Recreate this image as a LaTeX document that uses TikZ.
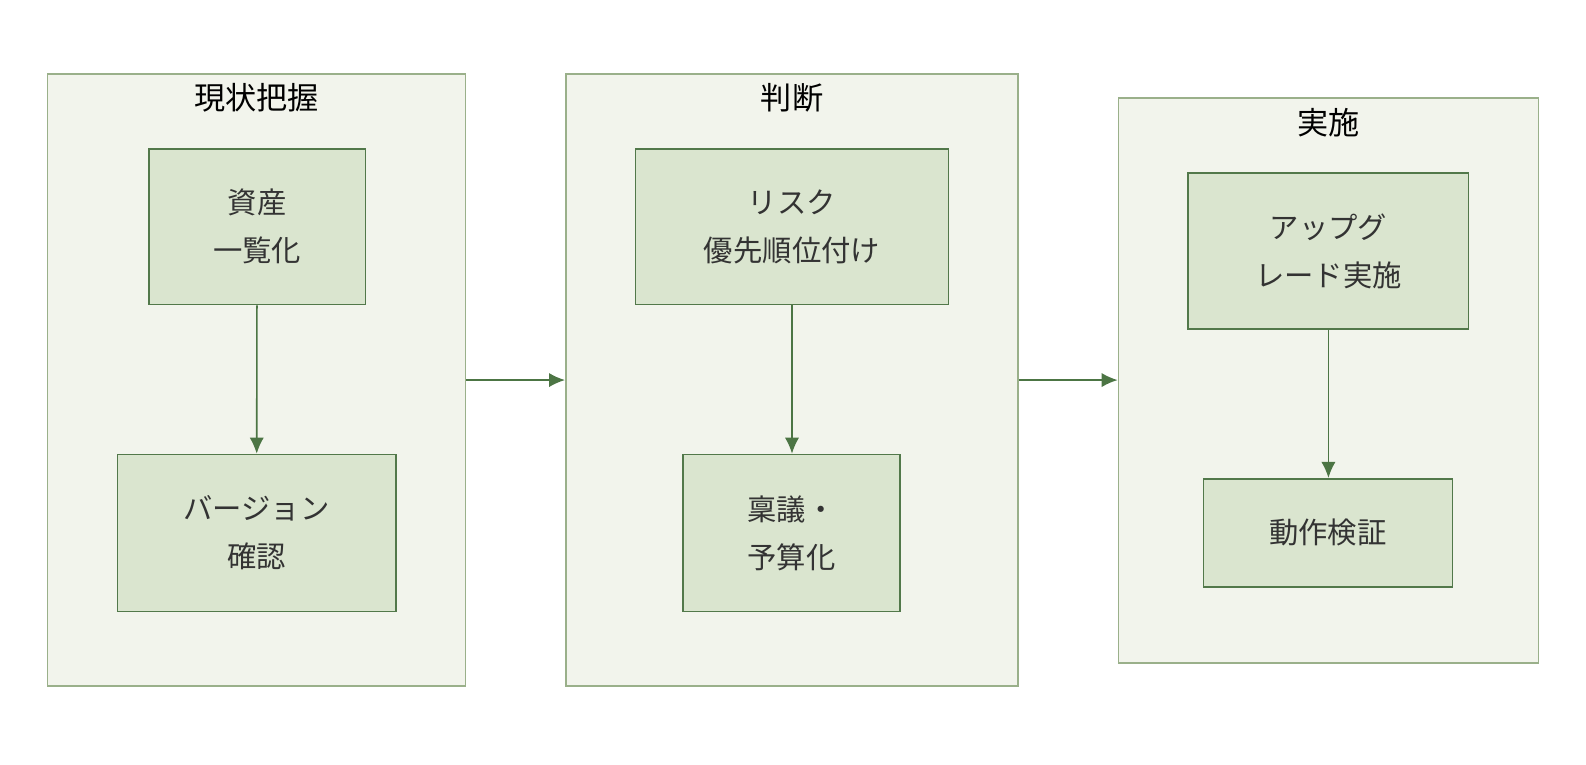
\documentclass[tikz,border=0pt]{standalone}
\usepackage{fontspec}
\newfontfamily\cjk{Noto Sans CJK JP}
\usetikzlibrary{arrows.meta}
\definecolor{grpfill}{HTML}{F2F4EC}
\definecolor{grpline}{HTML}{9AB08A}
\definecolor{boxfill}{HTML}{DAE5CF}
\definecolor{boxline}{HTML}{52784A}
\definecolor{flow}{HTML}{4C7544}
\tikzset{
  group/.style={draw=grpline, fill=grpfill, line width=0.9pt},
  task/.style={draw=boxline, fill=boxfill, line width=0.9pt, align=center,
    font=\cjk\fontsize{16.5}{27}\selectfont, text=black!80},
  title/.style={font=\cjk\fontsize{17.5}{20}\selectfont},
  flow/.style={draw=flow, line width=0.9pt, -{Latex[length=9pt,width=8pt]}}
}
\begin{document}
\begin{tikzpicture}[x=0.02cm, y=-0.02cm]
\useasboundingbox (0,0) rectangle (1567,755);

% groups
\node[group, minimum width=8.26cm, minimum height=12.1cm] (g1) at (253.5,375.5) {};
\node[group, minimum width=8.94cm, minimum height=12.1cm] (g2) at (782.5,375.5) {};
\node[group, minimum width=8.3cm, minimum height=11.16cm] (g3) at (1312.5,376) {};
\node[title] (t1) at (253.5,97) {現状把握};
\node[title] (t2) at (782.5,97) {判断};
\node[title] (t3) at (1312.5,121) {実施};

% tasks
\node[task, minimum width=4.28cm, minimum height=3.08cm] (asset) at (254,224) {資産\\一覧化};
\node[task, minimum width=5.5cm, minimum height=3.1cm] (ver) at (253.5,526.5) {バージョン\\確認};
\node[task, minimum width=6.18cm, minimum height=3.08cm] (risk) at (782.5,224) {リスク\\優先順位付け};
\node[task, minimum width=4.28cm, minimum height=3.1cm] (budget) at (782,526.5) {稟議・\\予算化};
\node[task, minimum width=5.54cm, minimum height=3.08cm] (upg) at (1312.5,248) {アップグ\\レード実施};
\node[task, minimum width=4.92cm, minimum height=2.14cm] (test) at (1312,526.5) {動作検証};

% connectors
\draw[flow] (asset) -- (ver);
\draw[flow] (risk) -- (budget.north -| risk);
\draw[flow] (upg) -- (test.north -| upg);
\draw[flow] (g1) -- (g2);
\draw[flow] (g2.east) -- (g3.west |- g2.east);
\end{tikzpicture}
\end{document}
